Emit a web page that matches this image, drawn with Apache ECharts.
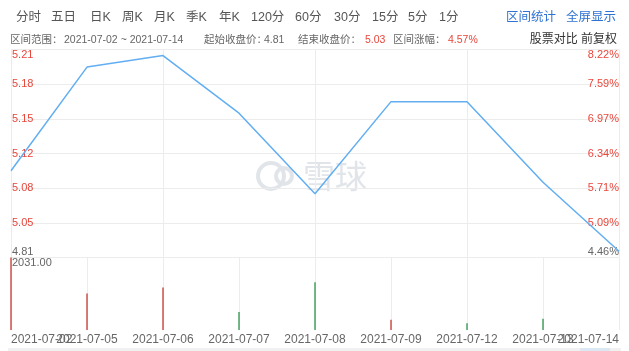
<!DOCTYPE html>
<html>
<head>
<meta charset="utf-8">
<script src="https://cdn.jsdelivr.net/npm/echarts@6/dist/echarts.min.js"></script>
<style>
html,body{margin:0;padding:0;background:#fff;}
#c{width:629px;height:351px;}
</style>
</head>
<body>
<div id="c"></div>
<script>
// ---- data ----
var dates = ['2021-07-02','2021-07-05','2021-07-06','2021-07-07','2021-07-08','2021-07-09','2021-07-12','2021-07-13','2021-07-14'];
var closes = [5.10, 5.19, 5.20, 5.15, 5.08, 5.16, 5.16, 5.09, 5.03];
var volumes = [2031, 1021, 1193, 506, 1336, 286, 192, 315, null];
var directions = ['up','up','up','down','down','up','down','down','down'];
var priceTicks = ['4.81','5.05','5.08','5.12','5.15','5.18','5.21'];
var pctTicks = ['4.46%','5.09%','5.71%','6.34%','6.97%','7.59%','8.22%'];
var priceMin = 5.0246, priceMax = 5.2053;
var volumeMax = 2031;
var volumeMaxLabel = '2031.00';
var periodTabs = ['分时','五日','日K','周K','月K','季K','年K','120分','60分','30分','15分','5分','1分'];
var infoParts = ['区间范围：','2021-07-02 ~ 2021-07-14','起始收盘价：','4.81','结束收盘价：','5.03','区间涨幅：','4.57%'];

// ---- layout ----
var tabX = [16,51,90,122,154,186,219,251,295,334,372,408,439];
var infoX = [10,64,204,264,298,365,393,448];
var infoRed = [false,false,false,false,false,true,false,true];
var RED = '#e8473c', GREEN = '#1e8a3e', GRAY = '#666', LINE = '#62aef2', GRID = '#ececec';
var FONT = '"Liberation Sans", Arial, "Noto Sans CJK SC", sans-serif';

var chart = echarts.init(document.getElementById('c'), null, {renderer:'canvas'});

var graphics = [];
periodTabs.forEach(function(t,i){
  graphics.push({type:'text', x:tabX[i], y:18, style:{text:t, fill:'#555', font:'12.5px '+FONT, textVerticalAlign:'middle'}});
});
graphics.push({type:'text', x:506, y:18, style:{text:'区间统计', fill:'#2e72d2', font:'12.5px '+FONT, textVerticalAlign:'middle'}});
graphics.push({type:'text', x:566, y:18, style:{text:'全屏显示', fill:'#2e72d2', font:'12.5px '+FONT, textVerticalAlign:'middle'}});
infoParts.forEach(function(t,i){
  graphics.push({type:'text', x:infoX[i], y:40, style:{text:t, fill: infoRed[i]?RED:'#666', font:'10.5px '+FONT, textVerticalAlign:'middle'}});
});
graphics.push({type:'text', x:617, y:40, style:{text:'股票对比 前复权', fill:'#333', font:'12px '+FONT, textAlign:'right', textVerticalAlign:'middle'}});
// watermark
graphics.push({type:'circle', shape:{cx:271, cy:176, r:13}, style:{fill:'none', stroke:'#e1e5ea', lineWidth:4}, z:0});
graphics.push({type:'circle', shape:{cx:284, cy:176, r:8}, style:{fill:'none', stroke:'#e1e5ea', lineWidth:4}, z:0});
graphics.push({type:'text', x:303, y:176, style:{text:'雪球', fill:'#e1e5ea', font:'32px "Noto Sans CJK SC", sans-serif', textVerticalAlign:'middle'}, z:0});
// bottom scroll strip
graphics.push({type:'rect', shape:{x:8, y:348, width:613, height:3}, style:{fill:'#f1f1f1'}});
graphics.push({type:'rect', shape:{x:580, y:348, width:30, height:3}, style:{fill:'#dce7f4'}});

function tickColor(v){ return Number(v) === 0 ? GRAY : RED; }

var option = {
  animation:false,
  backgroundColor:'#fff',
  graphic: graphics,
  grid:[
    {left:11, right:10, top:49.5, height:208},
    {left:11, right:10, top:257.5, bottom:21}
  ],
  xAxis:[
    {type:'category', gridIndex:0, data:dates, boundaryGap:false,
     axisLine:{show:false}, axisTick:{show:false}, axisLabel:{show:false},
     splitLine:{show:true, lineStyle:{color:GRID, width:1}}},
    {type:'category', gridIndex:1, data:dates, boundaryGap:false,
     axisLine:{show:false}, axisTick:{show:false},
     axisLabel:{show:true, interval:0, color:GRAY, fontSize:12, fontFamily:FONT, margin:4,
       alignMinLabel:'left', alignMaxLabel:'right', hideOverlap:false},
     splitLine:{show:true, lineStyle:{color:GRID, width:1}}}
  ],
  yAxis:[
    {type:'value', gridIndex:0, min:priceMin, max:priceMax, show:false, scale:true},
    {type:'value', gridIndex:0, min:0, max:6, interval:1, position:'left',
     axisLine:{show:false}, axisTick:{show:false},
     splitLine:{show:true, lineStyle:{color:GRID}},
     axisLabel:{inside:true, margin:1, fontSize:11, fontFamily:FONT,
       verticalAlignMinLabel:'bottom', verticalAlignMaxLabel:'top',
       color:tickColor,
       formatter:function(v){ return priceTicks[Math.round(v)]; }}},
    {type:'value', gridIndex:0, min:0, max:6, interval:1, position:'right',
     axisLine:{show:false}, axisTick:{show:false}, splitLine:{show:false},
     axisLabel:{inside:true, margin:0, fontSize:11, fontFamily:FONT,
       verticalAlignMinLabel:'bottom', verticalAlignMaxLabel:'top',
       color:tickColor,
       formatter:function(v){ return pctTicks[Math.round(v)]; }}},
    {type:'value', gridIndex:1, min:0, max:volumeMax, interval:volumeMax,
     axisLine:{show:false}, axisTick:{show:false}, splitLine:{show:false},
     axisLabel:{inside:true, margin:1, fontSize:11, fontFamily:FONT, color:GRAY,
       verticalAlignMaxLabel:'top',
       formatter:function(v){ return v>=volumeMax ? volumeMaxLabel : ''; }}}
  ],
  series:[
    {type:'line', xAxisIndex:0, yAxisIndex:0, data:closes, showSymbol:false, symbol:'none',
     lineStyle:{color:LINE, width:1.5}, itemStyle:{color:LINE}, z:5},
    {type:'bar', xAxisIndex:1, yAxisIndex:3, barWidth:1.2,
     data: volumes.map(function(v,i){ return {value:v, itemStyle:{color: directions[i]==='up'?'#c0281f':GREEN}}; })}
  ]
};
chart.setOption(option);
</script>
</body>
</html>
